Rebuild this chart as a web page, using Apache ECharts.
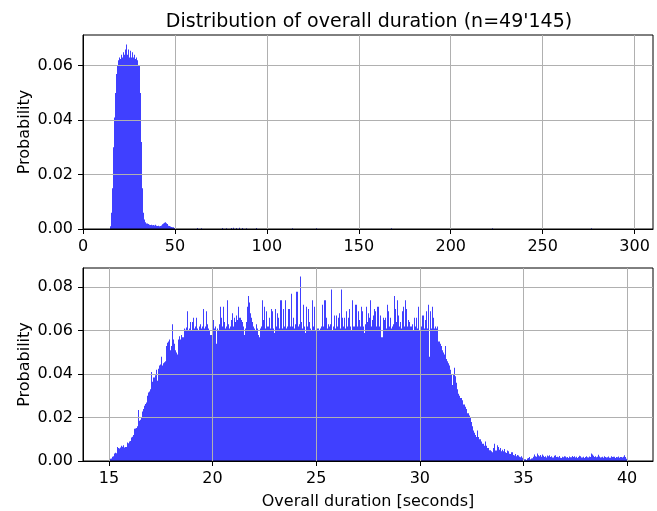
<!DOCTYPE html>
<html>
<head>
<meta charset="utf-8">
<script src="https://cdn.jsdelivr.net/npm/echarts@6/dist/echarts.min.js"></script>
<style>
  html, body { margin: 0; padding: 0; background: #fff; }
  #main { width: 657px; height: 511px; }
</style>
</head>
<body>
<div id="main"></div>
<script>
// ---- data ----
var titleText = "Distribution of overall duration (n=49'145)";
var xLabel = 'Overall duration [seconds]';
var yLabel = 'Probability';

// top histogram: bins of 0.56 s starting at 14.5 s
var topStart = 14.5;
var topWidth = 0.56;
var topValues = [
  0.001, 0.006, 0.015, 0.030, 0.041, 0.050, 0.057, 0.060, 0.062, 0.063,
  0.0625, 0.064, 0.063, 0.065, 0.064, 0.066, 0.0678, 0.064, 0.066, 0.063,
  0.0655, 0.063, 0.065, 0.063, 0.064, 0.0625, 0.063, 0.062, 0.060, 0.050,
  0.032, 0.015, 0.006, 0.0035, 0.0025, 0.002, 0.002, 0.0018, 0.0016, 0.0015,
  0.0016, 0.0014, 0.0015, 0.0013, 0.0016, 0.0012, 0.0011, 0.0012, 0.0010, 0.0011,
  0.0013, 0.0017, 0.0020, 0.0023, 0.0025, 0.0021, 0.0018, 0.0012, 0.0011, 0.0009,
  0.0007, 0.0006, 0.0004
];
// the few lonely bins far out in the tail
var topTailX = [62.2, 64.2, 75.6, 77.8, 80.3, 81.8, 83.3, 84.8, 86.3, 88.5, 94.0, 113.6, 126.7, 167.4, 222.4, 276.3];
var topTailY = [0.0004, 0.0003, 0.0004, 0.0003, 0.0004, 0.0005, 0.0004, 0.0005, 0.0004, 0.0003, 0.0004, 0.0003, 0.0003, 0.0003, 0.0003, 0.0003];

// bottom histogram: 500 bins of 0.05 s from 15 to 40 s
var botStart = 15;
var botWidth = 0.05;
var botValues = [
  0.0005,0.0010,0.0012,0.0020,0.0022,0.0035,0.0038,0.0036,0.0065,0.0060,
  0.0058,0.0062,0.0070,0.0066,0.0072,0.0062,0.0064,0.0085,0.0082,0.0090,
  0.0092,0.0108,0.0112,0.0120,0.0148,0.0150,0.0152,0.0160,0.0235,0.0185,
  0.0190,0.0200,0.0228,0.0240,0.0255,0.0262,0.0270,0.0300,0.0315,0.0320,
  0.0330,0.0410,0.0365,0.0385,0.0395,0.0420,0.0370,0.0425,0.0440,0.0445,
  0.0480,0.0440,0.0450,0.0455,0.0460,0.0530,0.0545,0.0550,0.0560,0.0510,
  0.0530,0.0630,0.0560,0.0540,0.0510,0.0500,0.0490,0.0560,0.0575,0.0560,
  0.0580,0.0570,0.0610,0.0605,0.0615,0.0690,0.0600,0.0610,0.0640,0.0600,
  0.064,0.066,0.061,0.062,0.066,0.061,0.060,0.062,0.063,0.061,
  0.062,0.070,0.061,0.062,0.069,0.063,0.061,0.060,0.058,0.062,
  0.065,0.061,0.062,0.054,0.061,0.060,0.063,0.071,0.066,0.062,
  0.071,0.064,0.061,0.062,0.074,0.063,0.061,0.062,0.065,0.068,
  0.062,0.066,0.064,0.067,0.065,0.071,0.066,0.065,0.064,0.062,
  0.058,0.061,0.064,0.071,0.076,0.073,0.068,0.066,0.064,0.062,
  0.061,0.060,0.063,0.061,0.058,0.057,0.061,0.062,0.074,0.065,
  0.071,0.061,0.069,0.062,0.066,0.061,0.070,0.069,0.061,0.059,
  0.070,0.062,0.068,0.066,0.061,0.074,0.074,0.061,0.070,0.062,
  0.074,0.061,0.062,0.070,0.070,0.062,0.077,0.062,0.066,0.061,
  0.063,0.078,0.062,0.063,0.085,0.064,0.061,0.072,0.062,0.059,
  0.071,0.062,0.070,0.064,0.061,0.060,0.074,0.062,0.071,0.060,
  0.066,0.061,0.061,0.060,0.061,0.062,0.072,0.062,0.074,0.066,
  0.061,0.063,0.062,0.063,0.079,0.060,0.062,0.067,0.061,0.067,
  0.062,0.066,0.068,0.061,0.079,0.066,0.062,0.066,0.061,0.069,
  0.062,0.066,0.070,0.062,0.060,0.074,0.062,0.072,0.072,0.062,
  0.069,0.065,0.062,0.071,0.069,0.062,0.059,0.063,0.071,0.064,
  0.068,0.066,0.074,0.062,0.065,0.067,0.070,0.069,0.062,0.071,
  0.071,0.062,0.067,0.057,0.066,0.065,0.066,0.061,0.072,0.069,
  0.062,0.066,0.061,0.062,0.063,0.076,0.070,0.064,0.074,0.067,
  0.062,0.064,0.061,0.069,0.071,0.062,0.074,0.070,0.062,0.065,
  0.064,0.062,0.063,0.060,0.066,0.062,0.066,0.061,0.071,0.060,
  0.060,0.062,0.067,0.067,0.061,0.065,0.069,0.061,0.072,0.048,
  0.069,0.061,0.071,0.066,0.061,0.062,0.061,0.062,0.055,0.054,
  0.053,0.051,0.050,0.049,0.053,0.047,0.046,0.045,0.044,0.042,
  0.040,0.035,0.040,0.043,0.039,0.036,0.033,0.031,0.030,0.029,
  0.029,0.028,0.026,0.026,0.025,0.024,0.022,0.021,0.020,0.018,
  0.016,0.014,0.013,0.012,0.011,0.014,0.011,0.010,0.010,0.009,
  0.008,0.008,0.007,0.009,0.007,0.006,0.006,0.005,0.005,0.0045,
  0.004,0.006,0.008,0.0048,0.0072,0.0065,0.0052,0.0060,0.0045,0.0052,
  0.0045,0.0055,0.0040,0.0037,0.0048,0.0045,0.0033,0.0032,0.0040,0.0040,
  0.0028,0.0025,0.0032,0.0022,0.0028,0.0025,0.0020,0.0017,0.0022,0.0015,
  0.0014,0.0008,0.0005,0.0012,0.0014,0.0018,0.0008,0.0012,0.0013,0.0020,
  0.0030,0.0022,0.0020,0.0035,0.0026,0.0022,0.0028,0.0020,0.0030,0.0024,
  0.0018,0.0022,0.0016,0.0025,0.0022,0.0027,0.0019,0.0022,0.0016,0.0024,
  0.0026,0.0018,0.0020,0.0017,0.0023,0.0015,0.0014,0.0020,0.0017,0.0022,
  0.0021,0.0016,0.0019,0.0014,0.0021,0.0017,0.0017,0.0023,0.0019,0.0022,
  0.0016,0.0020,0.0014,0.0018,0.0024,0.0022,0.0016,0.0020,0.0014,0.0018,
  0.0022,0.0017,0.0016,0.0021,0.0019,0.0035,0.0030,0.0024,0.0018,0.0022,
  0.0017,0.0020,0.0029,0.0021,0.0016,0.0017,0.0020,0.0015,0.0022,0.0019,
  0.0016,0.0017,0.0021,0.0015,0.0022,0.0018,0.0020,0.0020,0.0014,0.0018,
  0.0017,0.0021,0.0015,0.0018,0.0019,0.0016,0.0020,0.0026,0.0018,0.0010
];

// tick positions
var topXTicks = [0, 50, 100, 150, 200, 250, 300];
var topYTicks = [0, 0.02, 0.04, 0.06];
var botXTicks = [15, 20, 25, 30, 35, 40];
var botYTicks = [0, 0.02, 0.04, 0.06, 0.08];

// ---- styling ----
var font = 'DejaVu Sans';
var barColor = 'rgb(64,64,255)';
var gridColor = '#b0b0b0';

// [left edge, right edge, height] per bin
function binItems(start, width, values) {
  var out = [];
  for (var i = 0; i < values.length; i++) {
    out.push([start + i * width, start + (i + 1) * width, values[i]]);
  }
  return out;
}
function tailItems(xs, ys, width) {
  var out = [];
  for (var i = 0; i < xs.length; i++) out.push([xs[i], xs[i] + width, ys[i]]);
  return out;
}

// bins are ~1px wide, snap edges to whole pixels so no seams show
function drawBin(params, api) {
  var a = api.coord([api.value(0), api.value(2)]);
  var b = api.coord([api.value(1), 0]);
  var x0 = Math.round(a[0]), x1 = Math.round(b[0]);
  if (x1 <= x0) x1 = x0 + 1;
  return {
    type: 'rect',
    shape: { x: x0, y: a[1], width: x1 - x0, height: b[1] - a[1] },
    style: { fill: barColor }
  };
}

function axis(grid, min, max, ticks, fmt, extra) {
  var o = {
    gridIndex: grid, type: 'value', min: min, max: max,
    axisLine: { show: true, onZero: false, lineStyle: { color: '#000', width: 1 } },
    axisTick: { show: true, inside: false, length: 5, customValues: ticks, lineStyle: { color: '#000', width: 1 } },
    axisLabel: { customValues: ticks, color: '#000', fontFamily: font, fontSize: 16, margin: 10, formatter: fmt },
    splitLine: { show: true, lineStyle: { color: gridColor, width: 1 } }
  };
  for (var k in extra) o[k] = extra[k];
  return o;
}
function fmtInt(v) { return String(Math.round(v)); }
function fmt2(v) { return v.toFixed(2); }

var nameStyle = { color: '#000', fontFamily: font, fontSize: 16 };

var myChart = echarts.init(document.getElementById('main'), null, { renderer: 'canvas' });
myChart.setOption({
  animation: false,
  backgroundColor: '#fff',
  title: {
    text: titleText, left: 364, top: 8, textAlign: 'center',
    textStyle: { fontFamily: font, fontSize: 19, fontWeight: 'normal', color: '#000' }
  },
  grid: [
    { left: 83, top: 35, right: 4, height: 194, show: true, borderColor: '#000', borderWidth: 1 },
    { left: 83, top: 268, right: 4, height: 193, show: true, borderColor: '#000', borderWidth: 1 }
  ],
  xAxis: [
    axis(0, 0, 310, topXTicks, fmtInt, { interval: 50 }),
    axis(1, 13.75, 41.25, botXTicks, fmtInt, {
      splitNumber: 5, name: xLabel, nameLocation: 'middle', nameGap: 33, nameTextStyle: nameStyle
    })
  ],
  yAxis: [
    axis(0, 0, 0.0713, topYTicks, fmt2, {
      interval: 0.02, name: yLabel, nameLocation: 'middle', nameGap: 50, nameMoveOverlap: false, nameTextStyle: nameStyle
    }),
    axis(1, 0, 0.0889, botYTicks, fmt2, {
      interval: 0.02, name: yLabel, nameLocation: 'middle', nameGap: 50, nameMoveOverlap: false, nameTextStyle: nameStyle
    })
  ],
  series: [
    { type: 'custom', xAxisIndex: 0, yAxisIndex: 0, z: -1, clip: true, renderItem: drawBin,
      encode: { x: [0, 1], y: 2 }, data: binItems(topStart, topWidth, topValues) },
    { type: 'custom', xAxisIndex: 0, yAxisIndex: 0, z: -1, clip: true, renderItem: drawBin,
      encode: { x: [0, 1], y: 2 }, data: tailItems(topTailX, topTailY, topWidth) },
    { type: 'custom', xAxisIndex: 1, yAxisIndex: 1, z: -1, clip: true, renderItem: drawBin,
      encode: { x: [0, 1], y: 2 }, data: binItems(botStart, botWidth, botValues) }
  ]
});
</script>
</body>
</html>
